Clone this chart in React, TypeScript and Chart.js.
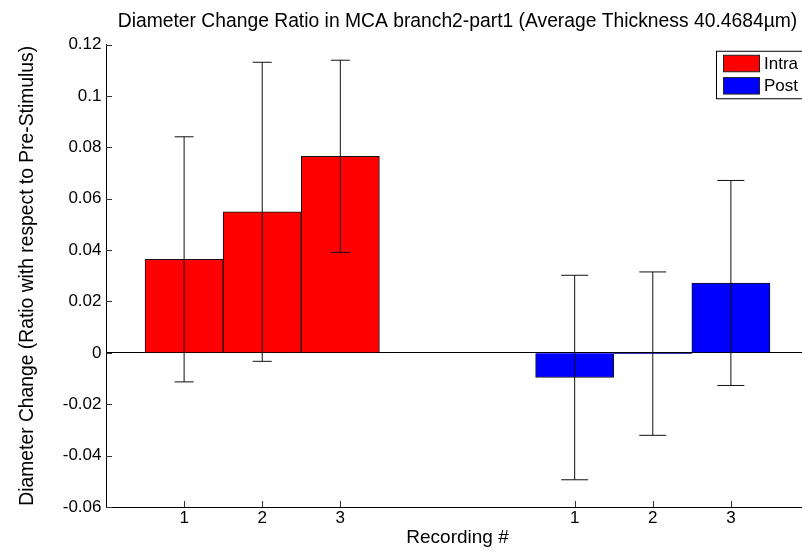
import React, { useEffect, useRef } from 'react';
import { Chart, registerables } from 'chart.js';

Chart.register(...registerables);

const seriesNames = ['Intra', 'Post'];
const seriesColors = ['#FF0000', '#0000FF'];
const intraX = [1, 2, 3];
const postX = [6, 7, 8];
const intraValues = [0.0364, 0.0549, 0.0765];
const postValues = [-0.0096, -0.0003, 0.0272];
const intraErrors = [0.0477, 0.0582, 0.0374];
const postErrors = [0.0398, 0.0318, 0.0399];
const xTickValues = [1, 2, 3, 6, 7, 8];
const xTickLabels = ['1', '2', '3', '1', '2', '3'];
const yTickValues = [-0.06, -0.04, -0.02, 0, 0.02, 0.04, 0.06, 0.08, 0.1, 0.12];
const titleText = 'Diameter Change Ratio in MCA branch2-part1 (Average Thickness 40.4684\u00B5m)';
const xTitle = 'Recording #';
const yTitle = 'Diameter Change (Ratio with respect to Pre-Stimulus)';

const FONT = "'Liberation Sans', Arial, Helvetica, sans-serif";
const errorSets = [intraErrors, postErrors];
const capHalf = [9.5, 13.5];

const overlayPlugin = {
  id: 'overlay',
  afterDatasetsDraw(chart: any) {
    const { ctx, chartArea, scales } = chart;
    const x = scales.x;
    const y = scales.y;
    ctx.save();
    ctx.strokeStyle = '#111';
    ctx.lineWidth = 1;
    chart.data.datasets.forEach((ds: any, i: number) => {
      ds.data.forEach((pt: any, j: number) => {
        const e = errorSets[i][j];
        const px = x.getPixelForValue(pt.x);
        const top = y.getPixelForValue(pt.y + e);
        const bot = y.getPixelForValue(pt.y - e);
        ctx.beginPath();
        ctx.moveTo(px, top);
        ctx.lineTo(px, bot);
        ctx.moveTo(px - capHalf[i], top);
        ctx.lineTo(px + capHalf[i], top);
        ctx.moveTo(px - capHalf[i], bot);
        ctx.lineTo(px + capHalf[i], bot);
        ctx.stroke();
      });
    });
    ctx.strokeStyle = '#333';
    ctx.beginPath();
    yTickValues.forEach((v) => {
      const py = Math.round(y.getPixelForValue(v)) + 0.5;
      ctx.moveTo(chartArea.left, py);
      ctx.lineTo(chartArea.left + 6, py);
    });
    xTickValues.forEach((v) => {
      const px = Math.round(x.getPixelForValue(v)) + 0.5;
      ctx.moveTo(px, chartArea.bottom);
      ctx.lineTo(px, chartArea.bottom - 6);
    });
    ctx.stroke();
    ctx.restore();
  },
  afterDraw(chart: any) {
    const { ctx, chartArea } = chart;
    ctx.save();
    const left = chartArea.right - 92.5;
    const top = chartArea.top + 6.7;
    ctx.fillStyle = '#fff';
    ctx.fillRect(left, top, 110, 47.5);
    ctx.strokeStyle = '#000';
    ctx.lineWidth = 1;
    ctx.strokeRect(left, top, 110, 47.5);
    ctx.font = `17px ${FONT}`;
    ctx.textBaseline = 'middle';
    ctx.textAlign = 'left';
    seriesNames.forEach((name, i) => {
      const sy = top + 4 + i * 22.3;
      ctx.fillStyle = seriesColors[i];
      ctx.fillRect(left + 7, sy, 36, 16.5);
      ctx.strokeStyle = '#222';
      ctx.strokeRect(left + 7, sy, 36, 16.5);
      ctx.fillStyle = '#000';
      ctx.fillText(name, left + 47.5, sy + 9);
    });
    ctx.restore();
  },
};

export default function App() {
  const ref = useRef<HTMLCanvasElement>(null);
  useEffect(() => {
    const chart = new Chart(ref.current as HTMLCanvasElement, {
      type: 'bar',
      data: {
        datasets: [
          {
            label: seriesNames[0],
            data: intraX.map((xv, i) => ({ x: xv, y: intraValues[i] })),
            backgroundColor: seriesColors[0],
            borderColor: '#111',
            borderWidth: 1,
          },
          {
            label: seriesNames[1],
            data: postX.map((xv, i) => ({ x: xv, y: postValues[i] })),
            backgroundColor: seriesColors[1],
            borderColor: '#111',
            borderWidth: 1,
          },
        ],
      } as any,
      options: {
        responsive: false,
        maintainAspectRatio: false,
        animation: false,
        devicePixelRatio: 1,
        layout: { padding: { left: 0, right: 3, top: 0, bottom: 0 } },
        datasets: { bar: { grouped: false, barPercentage: 1, categoryPercentage: 1 } } as any,
        plugins: {
          legend: { display: false },
          tooltip: { enabled: false },
          title: {
            display: true,
            text: titleText,
            fullSize: false,
            color: '#000',
            font: { family: FONT, size: 19.3, weight: 'normal', lineHeight: 1.2 },
            padding: { top: 9.6, bottom: 11.8 },
          },
        },
        scales: {
          x: {
            type: 'linear',
            offset: false,
            min: 0,
            max: 9,
            afterBuildTicks: (scale: any) => {
              scale.ticks = xTickValues.map((v) => ({ value: v }));
            },
            afterFit: (scale: any) => {
              scale.height = 45;
            },
            ticks: {
              autoSkip: false,
              maxRotation: 0,
              padding: 1,
              color: '#000',
              font: { family: FONT, size: 17, lineHeight: 1.2 },
              callback: (_v: any, i: number) => xTickLabels[i],
            },
            grid: { display: false, drawTicks: false, offset: false },
            border: { display: true, color: '#000', width: 1 },
            title: {
              display: true,
              text: xTitle,
              color: '#000',
              font: { family: FONT, size: 19, lineHeight: 1.2 },
              padding: { top: 0, bottom: 3.2 },
            },
          },
          y: {
            type: 'linear',
            min: -0.06,
            max: 0.12,
            afterBuildTicks: (scale: any) => {
              scale.ticks = yTickValues.map((v) => ({ value: v }));
            },
            afterFit: (scale: any) => {
              scale.width = 106;
            },
            ticks: {
              padding: 4.5,
              color: '#000',
              font: { family: FONT, size: 17, lineHeight: 1.2 },
              callback: (v: any) => String(Number(Number(v).toFixed(2))),
            },
            grid: {
              drawTicks: false,
              drawOnChartArea: true,
              color: (c: any) => (c.tick && Math.abs(c.tick.value) < 1e-9 ? '#000' : 'rgba(0,0,0,0)'),
              lineWidth: 1,
            },
            border: { display: true, color: '#000', width: 1 },
            title: {
              display: true,
              text: yTitle,
              color: '#000',
              font: { family: FONT, size: 19.3, lineHeight: 1.2 },
              padding: { top: 16.3, bottom: 0 },
            },
          },
        },
      } as any,
      plugins: [overlayPlugin],
    });
    return () => chart.destroy();
  }, []);

  return (
    <div
      style={{
        position: 'fixed',
        left: 0,
        top: 0,
        width: 802,
        height: 552,
        overflow: 'hidden',
        background: '#fff',
      }}
    >
      <canvas ref={ref} width={812} height={552} style={{ display: 'block', width: 812, height: 552 }} />
    </div>
  );
}
